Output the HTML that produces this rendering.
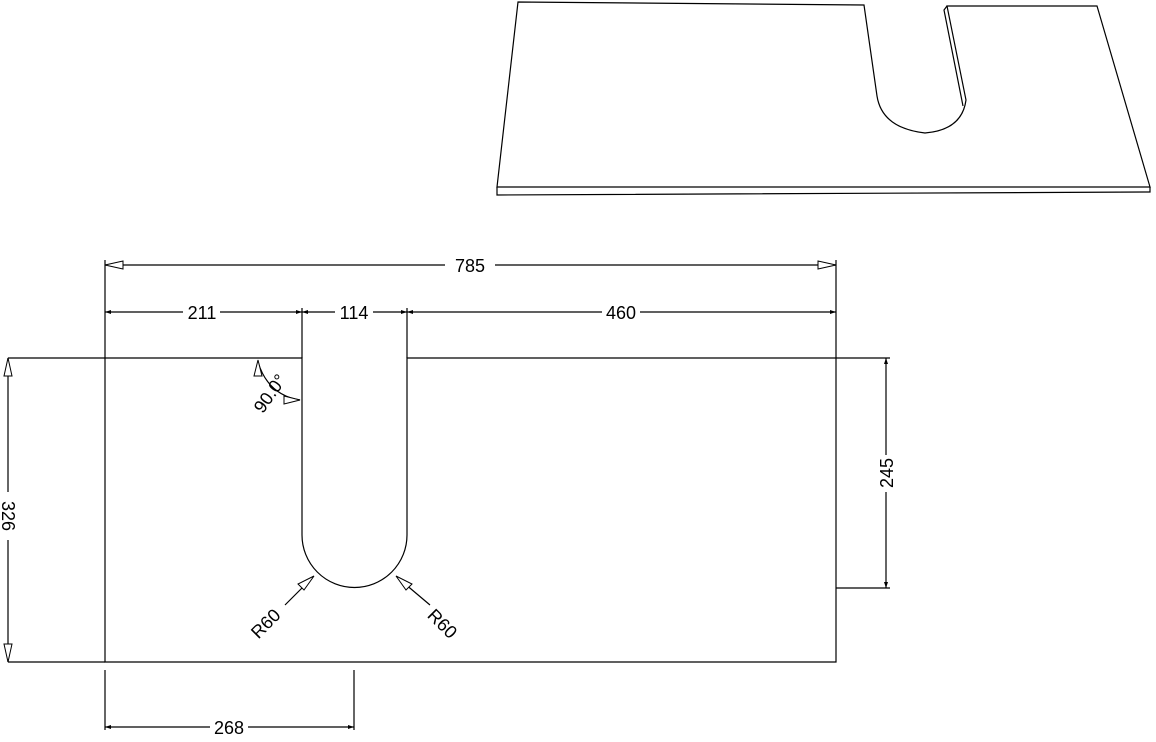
<!DOCTYPE html>
<html><head><style>body{margin:0;background:#fff}svg{display:block}text{font-family:"Liberation Sans",sans-serif;font-size:18px;fill:#000}</style></head><body>
<svg width="1156" height="742" viewBox="0 0 1156 742">
<g fill="none" stroke="#000" stroke-width="1.2">
<path d="M518,2 L864,5 L877,96 Q882,128 925,133 Q962,130 966,100 L947,6 L1097,6 L1150,187 L497,187 Z"/>
<path d="M497,187 L497,195 L1150,192 L1150,187"/>
<path d="M947,6 L944,10 L963,106"/>
<path d="M105,662 L836,662 L836,358 L407,358 L407,535 A52.5,52.5 0 0 1 302,535 L302,358 L105,358 Z"/>
<path d="M8,358 L105,358 M8,662 L105,662 M836,358 L890,358 M836,588 L890,588"/>
<path d="M105,358 L105,260 M836,358 L836,260 M302,358 L302,308 M407,358 L407,308"/>
<path d="M105,670 L105,730 M354,670 L354,730"/>
<path d="M105,265 L445,265 M495,265 L836,265"/>
<path d="M105,312 L183,312 M220,312 L302,312 M302,312 L335,312 M373,312 L407,312 M407,312 L602,312 M640,312 L836,312"/>
<path d="M8,358 L8,492 M8,540 L8,662"/>
<path d="M886,358 L886,455 M886,492 L886,588"/>
<path d="M105,727 L210,727 M248,727 L354,727"/>
<path d="M258,362 Q268,395 300,400" />
<path d="M285,605 L312,578 M430,605 L398,578"/>
</g>
<g fill="#fff" stroke="#000" stroke-width="1">
<path d="M105,265 L123,261 L123,269 Z"/><path d="M836,265 L818,261 L818,269 Z"/>
<path d="M8,358 L4,376 L12,376 Z"/><path d="M8,662 L4,644 L12,644 Z"/>
<path d="M258,360 L254,376 L262,376 Z"/><path d="M300,400 L284,396 L284,404 Z"/>
<path d="M314,576 L298,584 L304,590 Z"/><path d="M396,576 L412,584 L406,590 Z"/>
</g>
<g fill="#000">
<path d="M105,312 l6,-2 v4 Z M302,312 l-6,-2 v4 Z M302,312 l6,-2 v4 Z M407,312 l-6,-2 v4 Z M407,312 l6,-2 v4 Z M836,312 l-6,-2 v4 Z"/>
<path d="M886,358 l-2,6 h4 Z M886,588 l-2,-6 h4 Z M105,727 l6,-2 v4 Z M354,727 l-6,-2 v4 Z"/>
</g>
<text x="470" y="272" text-anchor="middle">785</text>
<text x="202" y="319" text-anchor="middle">211</text>
<text x="354" y="319" text-anchor="middle">114</text>
<text x="621" y="319" text-anchor="middle">460</text>
<text x="229" y="734" text-anchor="middle">268</text>
<text transform="translate(2,516) rotate(90)" text-anchor="middle">326</text>
<text transform="translate(893,473) rotate(-90)" text-anchor="middle">245</text>
<text transform="translate(275,397) rotate(-55)" text-anchor="middle">90.0°</text>
<text transform="translate(270,628) rotate(-45)" text-anchor="middle">R60</text>
<text transform="translate(438,628) rotate(45)" text-anchor="middle">R60</text>
</svg>
</body></html>
